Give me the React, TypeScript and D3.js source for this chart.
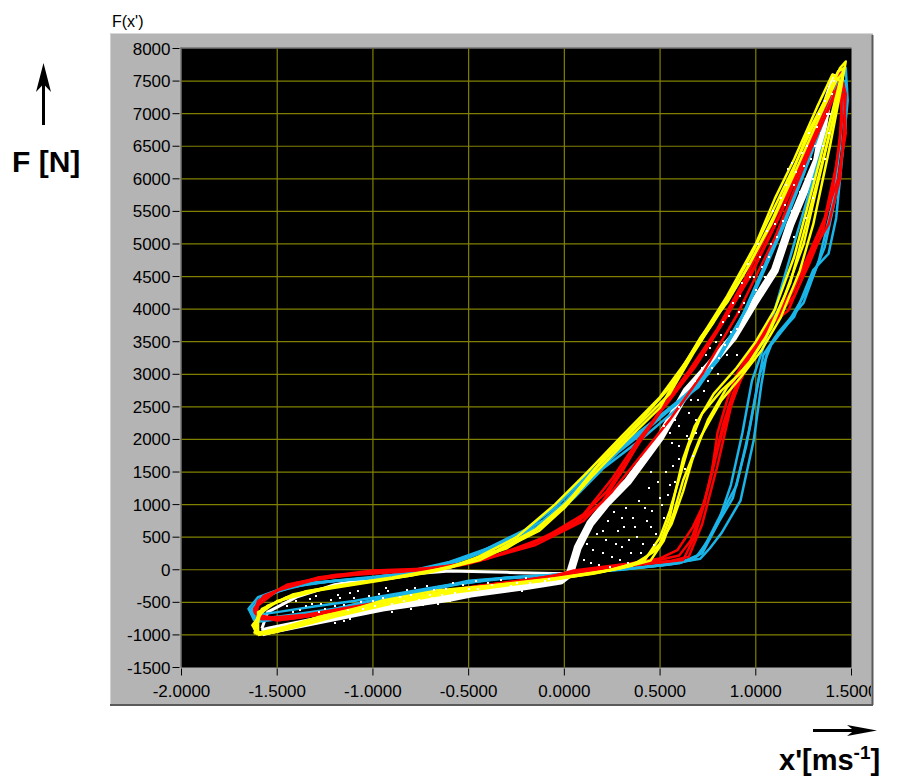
import * as d3 from "d3";

type Pt = [number, number];

// axis ticks
const xTicks = [-2, -1.5, -1, -0.5, 0, 0.5, 1, 1.5];
const yTicks = [-1500, -1000, -500, 0, 500, 1000, 1500, 2000, 2500, 3000, 3500, 4000, 4500, 5000, 5500, 6000, 6500, 7000, 7500, 8000];

// cyan cycles (velocity, force)
const cyanLoops: Pt[][] = [
  [[-1.62,-780],[-1.52,-735],[-1.35,-680],[-1.23,-620],[-1.0,-470],[-0.8,-360],[-0.67,-280],[-0.5,-170],[-0.25,-110],[0.05,-60],[0.3,10],[0.5,65],[0.71,170],[0.76,330],[0.82,560],[0.92,1060],[0.99,2000],[1.03,2860],[1.06,3360],[1.1,3560],[1.2,3880],[1.3,4600],[1.38,4850],[1.42,5400],[1.45,6300],[1.48,7200],[1.47,7700],[1.44,7600],[1.38,7100],[1.28,6300],[1.15,5300],[1.0,4300],[0.85,3450],[0.7,2800],[0.5,2350],[0.33,1950],[0.15,1530],[0,1030],[-0.11,760],[-0.23,560],[-0.5,190],[-0.8,-40],[-1.0,-120],[-1.33,-210],[-1.5,-330],[-1.6,-480],[-1.64,-650],[-1.62,-780]],
  [[-1.6,-760],[-1.45,-700],[-1.2,-600],[-0.95,-430],[-0.65,-260],[-0.4,-150],[-0.1,-90],[0.1,-40],[0.4,40],[0.62,120],[0.7,220],[0.78,600],[0.88,1100],[0.95,1900],[1.0,2700],[1.04,3300],[1.12,3650],[1.25,4100],[1.33,4750],[1.4,5600],[1.44,6500],[1.46,7300],[1.45,7650],[1.4,7400],[1.32,6800],[1.2,5800],[1.05,4700],[0.9,3700],[0.75,3000],[0.6,2600],[0.45,2250],[0.25,1800],[0.1,1400],[-0.05,950],[-0.2,620],[-0.45,260],[-0.7,20],[-1.0,-130],[-1.3,-190],[-1.48,-300],[-1.6,-500],[-1.63,-680],[-1.6,-760]],
  [[-1.63,-700],[-1.5,-650],[-1.3,-560],[-1.1,-480],[-0.9,-380],[-0.6,-230],[-0.3,-130],[0.0,-70],[0.3,0],[0.6,100],[0.72,250],[0.8,700],[0.87,1300],[0.93,2100],[0.98,2900],[1.05,3500],[1.12,4200],[1.2,5000],[1.3,6000],[1.4,7000],[1.45,7600],[1.4,7300],[1.3,6500],[1.1,5000],[0.95,4000],[0.8,3200],[0.6,2500],[0.4,2000],[0.2,1550],[0.05,1100],[-0.1,700],[-0.3,400],[-0.6,80],[-0.9,-100],[-1.2,-170],[-1.45,-260],[-1.6,-420],[-1.65,-600],[-1.63,-700]],
  [[-1.61,-800],[-1.4,-720],[-1.15,-580],[-0.85,-400],[-0.55,-220],[-0.3,-120],[0.0,-70],[0.35,20],[0.55,80],[0.68,160],[0.74,400],[0.8,750],[0.9,1300],[0.97,2200],[1.02,3000],[1.08,3450],[1.16,3750],[1.27,4300],[1.36,4950],[1.43,5900],[1.47,6800],[1.47,7500],[1.42,7500],[1.35,6900],[1.24,6000],[1.1,5000],[0.95,4000],[0.8,3250],[0.65,2700],[0.45,2200],[0.28,1800],[0.12,1350],[0.0,950],[-0.15,650],[-0.35,380],[-0.6,120],[-0.9,-80],[-1.2,-170],[-1.42,-260],[-1.58,-420],[-1.64,-620],[-1.61,-800]],
];

const redLoops: Pt[][] = [
  [[-1.6,-720],[-1.5,-780],[-1.3,-700],[-1.0,-520],[-0.7,-360],[-0.4,-230],[-0.1,-130],[0.05,-10],[0.34,96],[0.5,173],[0.59,300],[0.67,650],[0.73,1020],[0.78,1630],[0.83,2240],[0.88,2700],[0.93,3060],[1.0,3450],[1.06,3720],[1.17,3980],[1.23,4390],[1.3,4900],[1.38,5300],[1.44,6000],[1.46,6700],[1.47,7300],[1.44,7650],[1.42,7500],[1.35,7000],[1.25,6300],[1.1,5400],[0.95,4500],[0.8,3700],[0.65,3050],[0.5,2450],[0.4,2000],[0.3,1500],[0.2,1050],[0.08,760],[-0.18,400],[-0.44,140],[-0.7,20],[-1.0,-10],[-1.29,-120],[-1.47,-270],[-1.58,-450],[-1.62,-620],[-1.6,-720]],
  [[-1.61,-700],[-1.58,-760],[-1.4,-740],[-1.1,-600],[-0.8,-420],[-0.5,-280],[-0.2,-160],[0.0,-60],[0.3,60],[0.5,110],[0.62,150],[0.68,500],[0.73,1000],[0.77,1500],[0.8,2100],[0.85,2600],[0.9,3000],[0.98,3400],[1.1,3850],[1.2,4200],[1.28,4700],[1.35,5200],[1.4,5800],[1.44,6600],[1.45,7300],[1.4,7350],[1.3,6700],[1.15,5600],[1.0,4700],[0.85,3900],[0.7,3200],[0.55,2600],[0.4,2050],[0.25,1400],[0.1,850],[-0.1,500],[-0.4,170],[-0.7,0],[-1.0,-40],[-1.3,-150],[-1.5,-320],[-1.6,-550],[-1.61,-700]],
  [[-1.62,-660],[-1.55,-740],[-1.35,-690],[-1.05,-540],[-0.75,-390],[-0.45,-250],[-0.15,-150],[0.1,-30],[0.4,80],[0.56,140],[0.65,200],[0.72,700],[0.8,1600],[0.87,2500],[0.95,3200],[1.05,3700],[1.15,4100],[1.25,4600],[1.35,5300],[1.43,6000],[1.47,6700],[1.46,7400],[1.4,7200],[1.28,6400],[1.1,5100],[0.9,3900],[0.72,3000],[0.55,2300],[0.4,1750],[0.25,1200],[0.1,750],[-0.15,380],[-0.5,90],[-0.9,-30],[-1.2,-80],[-1.45,-230],[-1.6,-480],[-1.62,-660]],
  [[-1.6,-700],[-1.45,-760],[-1.2,-650],[-0.9,-470],[-0.6,-310],[-0.3,-190],[-0.05,-90],[0.2,20],[0.45,120],[0.6,220],[0.66,450],[0.71,850],[0.76,1350],[0.81,1950],[0.86,2450],[0.92,2900],[1.02,3500],[1.12,3900],[1.2,4300],[1.27,4800],[1.36,5400],[1.42,6200],[1.45,6900],[1.44,7500],[1.38,7100],[1.27,6400],[1.12,5400],[0.98,4550],[0.82,3750],[0.68,3100],[0.52,2500],[0.38,1900],[0.22,1200],[0.05,700],[-0.2,350],[-0.55,60],[-0.85,-30],[-1.15,-90],[-1.4,-200],[-1.57,-400],[-1.62,-600],[-1.6,-700]],
];

const yellowLoops: Pt[][] = [
  [[-1.6,-1000],[-1.47,-890],[-1.29,-730],[-1.12,-625],[-0.95,-470],[-0.67,-320],[-0.27,-210],[0.0,-120],[0.29,20],[0.45,140],[0.52,450],[0.57,860],[0.62,1370],[0.71,2030],[0.82,2600],[0.92,2950],[1.03,3370],[1.13,3870],[1.23,4590],[1.3,5300],[1.39,6540],[1.44,7300],[1.47,7800],[1.44,7700],[1.38,7300],[1.27,6700],[1.17,5930],[1.09,5400],[0.97,4700],[0.85,4100],[0.71,3560],[0.61,3060],[0.5,2490],[0.33,2000],[0.15,1450],[0.0,950],[-0.13,600],[-0.3,350],[-0.44,150],[-0.7,-40],[-0.96,-165],[-1.29,-320],[-1.5,-480],[-1.6,-700],[-1.62,-900],[-1.6,-1000]],
  [[-1.6,-950],[-1.55,-980],[-1.4,-880],[-1.2,-720],[-0.9,-520],[-0.6,-360],[-0.3,-240],[-0.05,-150],[0.2,-30],[0.4,120],[0.5,400],[0.55,800],[0.58,1200],[0.62,1700],[0.68,2200],[0.78,2700],[0.9,3100],[1.0,3500],[1.1,4000],[1.2,4800],[1.3,5900],[1.38,6800],[1.44,7500],[1.4,7600],[1.32,7100],[1.2,6300],[1.1,5700],[1.0,5000],[0.85,4200],[0.7,3500],[0.55,2800],[0.4,2300],[0.2,1700],[0.05,1150],[-0.1,700],[-0.3,330],[-0.6,30],[-0.9,-130],[-1.2,-260],[-1.45,-420],[-1.6,-650],[-1.6,-950]],
  [[-1.6,-1000],[-1.5,-950],[-1.3,-780],[-1.0,-560],[-0.7,-390],[-0.4,-260],[-0.1,-160],[0.15,-60],[0.35,60],[0.48,300],[0.56,700],[0.62,1200],[0.67,1700],[0.75,2300],[0.85,2800],[0.97,3200],[1.08,3700],[1.18,4400],[1.28,5500],[1.36,6400],[1.43,7200],[1.46,7650],[1.42,7500],[1.34,7000],[1.22,6200],[1.08,5300],[0.93,4500],[0.78,3800],[0.65,3250],[0.5,2650],[0.3,2050],[0.12,1500],[-0.05,1000],[-0.25,500],[-0.5,120],[-0.8,-90],[-1.1,-210],[-1.35,-330],[-1.55,-550],[-1.63,-850],[-1.6,-1000]],
  [[-1.62,-980],[-1.45,-870],[-1.25,-700],[-0.95,-500],[-0.65,-340],[-0.35,-230],[-0.05,-130],[0.25,0],[0.42,150],[0.5,500],[0.55,900],[0.6,1400],[0.65,1900],[0.72,2400],[0.82,2750],[0.95,3100],[1.05,3550],[1.15,4200],[1.25,5000],[1.33,6000],[1.41,7000],[1.46,7700],[1.43,7650],[1.36,7200],[1.25,6500],[1.12,5700],[0.98,4850],[0.82,4000],[0.68,3350],[0.55,2700],[0.38,2200],[0.18,1600],[0.02,1050],[-0.15,620],[-0.35,300],[-0.6,40],[-0.9,-120],[-1.2,-250],[-1.42,-380],[-1.58,-600],[-1.62,-980]],
];

// white trace: dense band + thin upper return
const whiteBand: Pt[] = [[-1.58,-960],[-1.54,-930],[-1.29,-780],[-0.95,-580],[-0.6,-430],[-0.49,-365],[-0.2,-250],[-0.02,-165],[0.03,-50],[0.07,340],[0.135,710],[0.22,1020],[0.33,1350],[0.5,2030],[0.64,2750],[0.78,3210],[0.88,3560],[0.99,4090],[1.1,4600],[1.18,5300],[1.32,6280],[1.375,7200],[1.42,7600]];
const whiteUpper: Pt[] = [[-1.58,-900],[-1.55,-650],[-1.4,-420],[-1.2,-230],[-0.95,-100],[-0.6,-20],[-0.3,-40],[0.0,-60],[0.03,-50]];

const whiteDots: Pt[] = [
  [-1.45,-560],[-1.4,-480],[-1.38,-620],[-1.32,-520],[-1.3,-400],[-1.25,-600],[-1.22,-470],[-1.18,-380],[-1.15,-540],[-1.1,-440],
  [-1.08,-330],[-1.05,-600],[-1.0,-480],[-0.97,-370],[-0.93,-280],[-0.9,-520],[-0.86,-420],[-0.82,-310],[-0.8,-600],[-0.76,-460],
  [-0.72,-250],[-0.7,-380],[-0.66,-520],[-0.62,-300],[-0.58,-200],[-0.55,-420],[-0.5,-290],[-0.46,-180],[-0.42,-350],[-0.38,-240],
  [-0.33,-150],[-0.3,-300],[-0.25,-200],[-0.2,-120],[-0.15,-260],[-0.1,-180],[-1.2,-820],[-1.15,-790],[-1.12,-760],[-0.9,-650],
  [-1.42,-650],[-1.35,-560],[-1.33,-450],[-1.28,-650],[-1.27,-530],[-1.2,-560],[-1.17,-430],[-1.13,-620],[-1.12,-350],[-1.06,-500],
  [-1.02,-400],[-0.99,-560],[-0.95,-430],[-0.92,-330],[-0.88,-580],[-0.84,-480],[-0.8,-380],[-0.78,-280],[-0.74,-540],[-0.69,-440],
  [-0.68,-310],[-0.64,-380],[-0.6,-480],[-0.57,-350],[-0.53,-240],[-0.48,-400],[-0.45,-300],[-0.4,-200],[-0.36,-330],[-0.28,-250],
  [-0.22,-330],[-0.18,-200],[-0.12,-250],[-0.08,-140],[-0.05,-220],
  [0.1,150],[0.15,300],[0.18,80],[0.22,450],[0.25,200],[0.28,600],[0.3,350],[0.33,100],[0.36,800],[0.38,500],
  [0.4,250],[0.42,950],[0.45,650],[0.47,380],[0.5,1100],[0.52,800],[0.55,1300],[0.3,800],[0.26,880],[0.2,600],
  [0.12,400],[0.14,100],[0.17,550],[0.2,250],[0.23,750],[0.24,50],[0.27,400],[0.29,150],[0.31,650],[0.32,950],
  [0.34,450],[0.35,250],[0.37,650],[0.39,1050],[0.41,400],[0.43,750],[0.44,1250],[0.46,900],[0.48,550],[0.49,1350],
  [0.51,1000],[0.53,1500],[0.54,1150],[0.57,1600],[0.58,1350],[0.6,1900],[0.63,1550],[0.65,2000],[0.67,1750],[0.69,2100],
  [0.55,2100],[0.6,2500],[0.58,2300],[0.65,2400],[0.68,2900],[0.7,2600],[0.72,3100],[0.75,2900],[0.76,3400],[0.8,3000],
  [0.82,3600],[0.85,3300],[0.86,3900],[0.9,3700],[0.92,4200],[0.95,3900],[0.97,4500],[1.0,4300],[1.02,4800],[1.05,4500],
  [1.08,5000],[1.1,5300],[1.12,4900],[1.15,5600],[1.18,5300],[1.2,5900],[1.22,5600],[1.25,6200],[1.27,6500],[1.3,6000],
  [1.32,6800],[1.35,6500],[1.37,7000],[1.4,7300],[1.38,6700],[1.17,6150],[1.19,6250],[0.45,1500],[0.4,1700],[0.6,1700],
  [0.48,1900],[0.52,2200],[0.56,1950],[0.6,2200],[0.62,2700],[0.64,2050],[0.66,2600],[0.69,2300],[0.7,3000],[0.73,2750],
  [0.74,3300],[0.77,3100],[0.79,3500],[0.81,3250],[0.83,3800],[0.84,3450],[0.87,3650],[0.88,4100],[0.91,3950],[0.93,4400],
  [0.94,4100],[0.96,4700],[0.99,4500],[1.01,5000],[1.03,4650],[1.06,5200],[1.07,4800],[1.09,5500],[1.11,5100],[1.13,5700],
  [1.14,5350],[1.16,5900],[1.19,5500],[1.21,6100],[1.23,5800],[1.24,6400],[1.26,6000],[1.28,6700],[1.29,6300],[1.31,6500],
  [1.33,7000],[1.34,6700],[1.36,7200],[1.39,7000],[1.41,7500],[1.36,6300],[1.3,5700],[1.26,5400],[1.2,5100],[0.9,3300],
];

const CYAN = "#1ab4e8";
const RED = "#ff0000";
const YELLOW = "#ffff00";
const GRID = "#808000";
const tickFont = "'Liberation Sans', Arial, sans-serif";

export default function App() {
  const x = d3.scaleLinear().domain([-2, 1.5]).range([181.5, 851.5]);
  const y = d3.scaleLinear().domain([-1500, 8000]).range([667.5, 48.5]);
  const line = d3.line<Pt>().x(d => x(d[0])).y(d => y(d[1]));

  const [x0, x1] = x.range();
  const [y0, y1] = y.range();

  return (
    <svg width={901} height={783} style={{ position: "absolute", left: 0, top: 0, background: "#fff" }}>
      <defs>
        <clipPath id="plot"><rect x={x0} y={y1} width={x1 - x0} height={y0 - y1} /></clipPath>
        <clipPath id="panel"><rect x={110} y={33} width={761} height={672} /></clipPath>
      </defs>

      <text x={112} y={27} fontFamily={tickFont} fontSize={16}>F(x')</text>

      {/* grey panel */}
      <rect x={110} y={33} width={763} height={672} fill="#b4b4b4" />
      <line x1={110} y1={33.5} x2={873} y2={33.5} stroke="#d8d8d8" />
      <line x1={110.5} y1={33} x2={110.5} y2={705} stroke="#d0d0d0" />
      <line x1={872.5} y1={35} x2={872.5} y2={705} stroke="#5a5a5a" strokeWidth={2} />
      <line x1={110} y1={705} x2={873} y2={705} stroke="#5a5a5a" strokeWidth={2} />

      {/* plot area */}
      <rect x={x0} y={y1} width={x1 - x0} height={y0 - y1} fill="#000" />
      <line x1={x0 - 0.5} y1={y1 - 1} x2={x0 - 0.5} y2={y0} stroke="#555" />
      <line x1={x0 - 1} y1={y1 - 0.5} x2={x1} y2={y1 - 0.5} stroke="#555" />

      {xTicks.slice(1, -1).map(t => (
        <line key={"gx" + t} x1={x(t)} x2={x(t)} y1={y1} y2={y0} stroke={GRID} strokeWidth={1.2} />
      ))}
      {yTicks.slice(1, -1).map(t => (
        <line key={"gy" + t} x1={x0} x2={x1} y1={y(t)} y2={y(t)} stroke={GRID} strokeWidth={1.2} />
      ))}

      {/* ticks & labels */}
      {yTicks.map(t => (
        <g key={"ty" + t}>
          <line x1={x0 - 9} x2={x0 - 2} y1={y(t)} y2={y(t)} stroke="#000" />
          <text x={x0 - 11} y={y(t) + 6} textAnchor="end" fontFamily={tickFont} fontSize={17} fill="#000">{t}</text>
        </g>
      ))}
      <g clipPath="url(#panel)">
        {xTicks.map(t => (
          <g key={"tx" + t}>
            <line x1={x(t)} x2={x(t)} y1={y0 + 1} y2={y0 + 8} stroke="#000" />
            <text x={x(t)} y={697} textAnchor="middle" fontFamily={tickFont} fontSize={17} fill="#000">{t.toFixed(4)}</text>
          </g>
        ))}
      </g>

      {/* data */}
      <g clipPath="url(#plot)" fill="none" strokeLinejoin="round">
        <path d={line(whiteBand) ?? ""} stroke="#fff" strokeWidth={8} />
        <path d={line(whiteUpper) ?? ""} stroke="#fff" strokeWidth={3} />
        {cyanLoops.map((l, i) => <path key={"c" + i} d={line(l) ?? ""} stroke={CYAN} strokeWidth={2.5} />)}
        {redLoops.map((l, i) => <path key={"r" + i} d={line(l) ?? ""} stroke={RED} strokeWidth={2.5} />)}
        {yellowLoops.map((l, i) => <path key={"y" + i} d={line(l) ?? ""} stroke={YELLOW} strokeWidth={2.5} />)}
        {whiteDots.map((d, i) => (
          <rect key={"w" + i} x={Math.round(x(d[0])) - 1} y={Math.round(y(d[1])) - 1} width={2} height={2} fill="#fff" shapeRendering="crispEdges" />
        ))}
      </g>

      {/* axis captions */}
      <line x1={43.5} y1={80} x2={43.5} y2={125} stroke="#000" strokeWidth={3} />
      <path d="M43.5,63 L51,92 L43.5,84 L36,92 Z" fill="#000" />
      <text x={12} y={172} fontFamily="'Liberation Sans', Arial, sans-serif" fontWeight="bold" fontSize={30}>F [N]</text>

      <line x1={813} y1={730.5} x2={860} y2={730.5} stroke="#000" strokeWidth={3} />
      <path d="M877,730.5 L847,725 L854,730.5 L847,736 Z" fill="#000" />
      <text x={779} y={770} fontFamily="'Liberation Sans', Arial, sans-serif" fontWeight="bold" fontSize={29}>
        x'[ms<tspan fontSize={19} dy={-11}>-1</tspan><tspan dy={11}>]</tspan>
      </text>
    </svg>
  );
}
